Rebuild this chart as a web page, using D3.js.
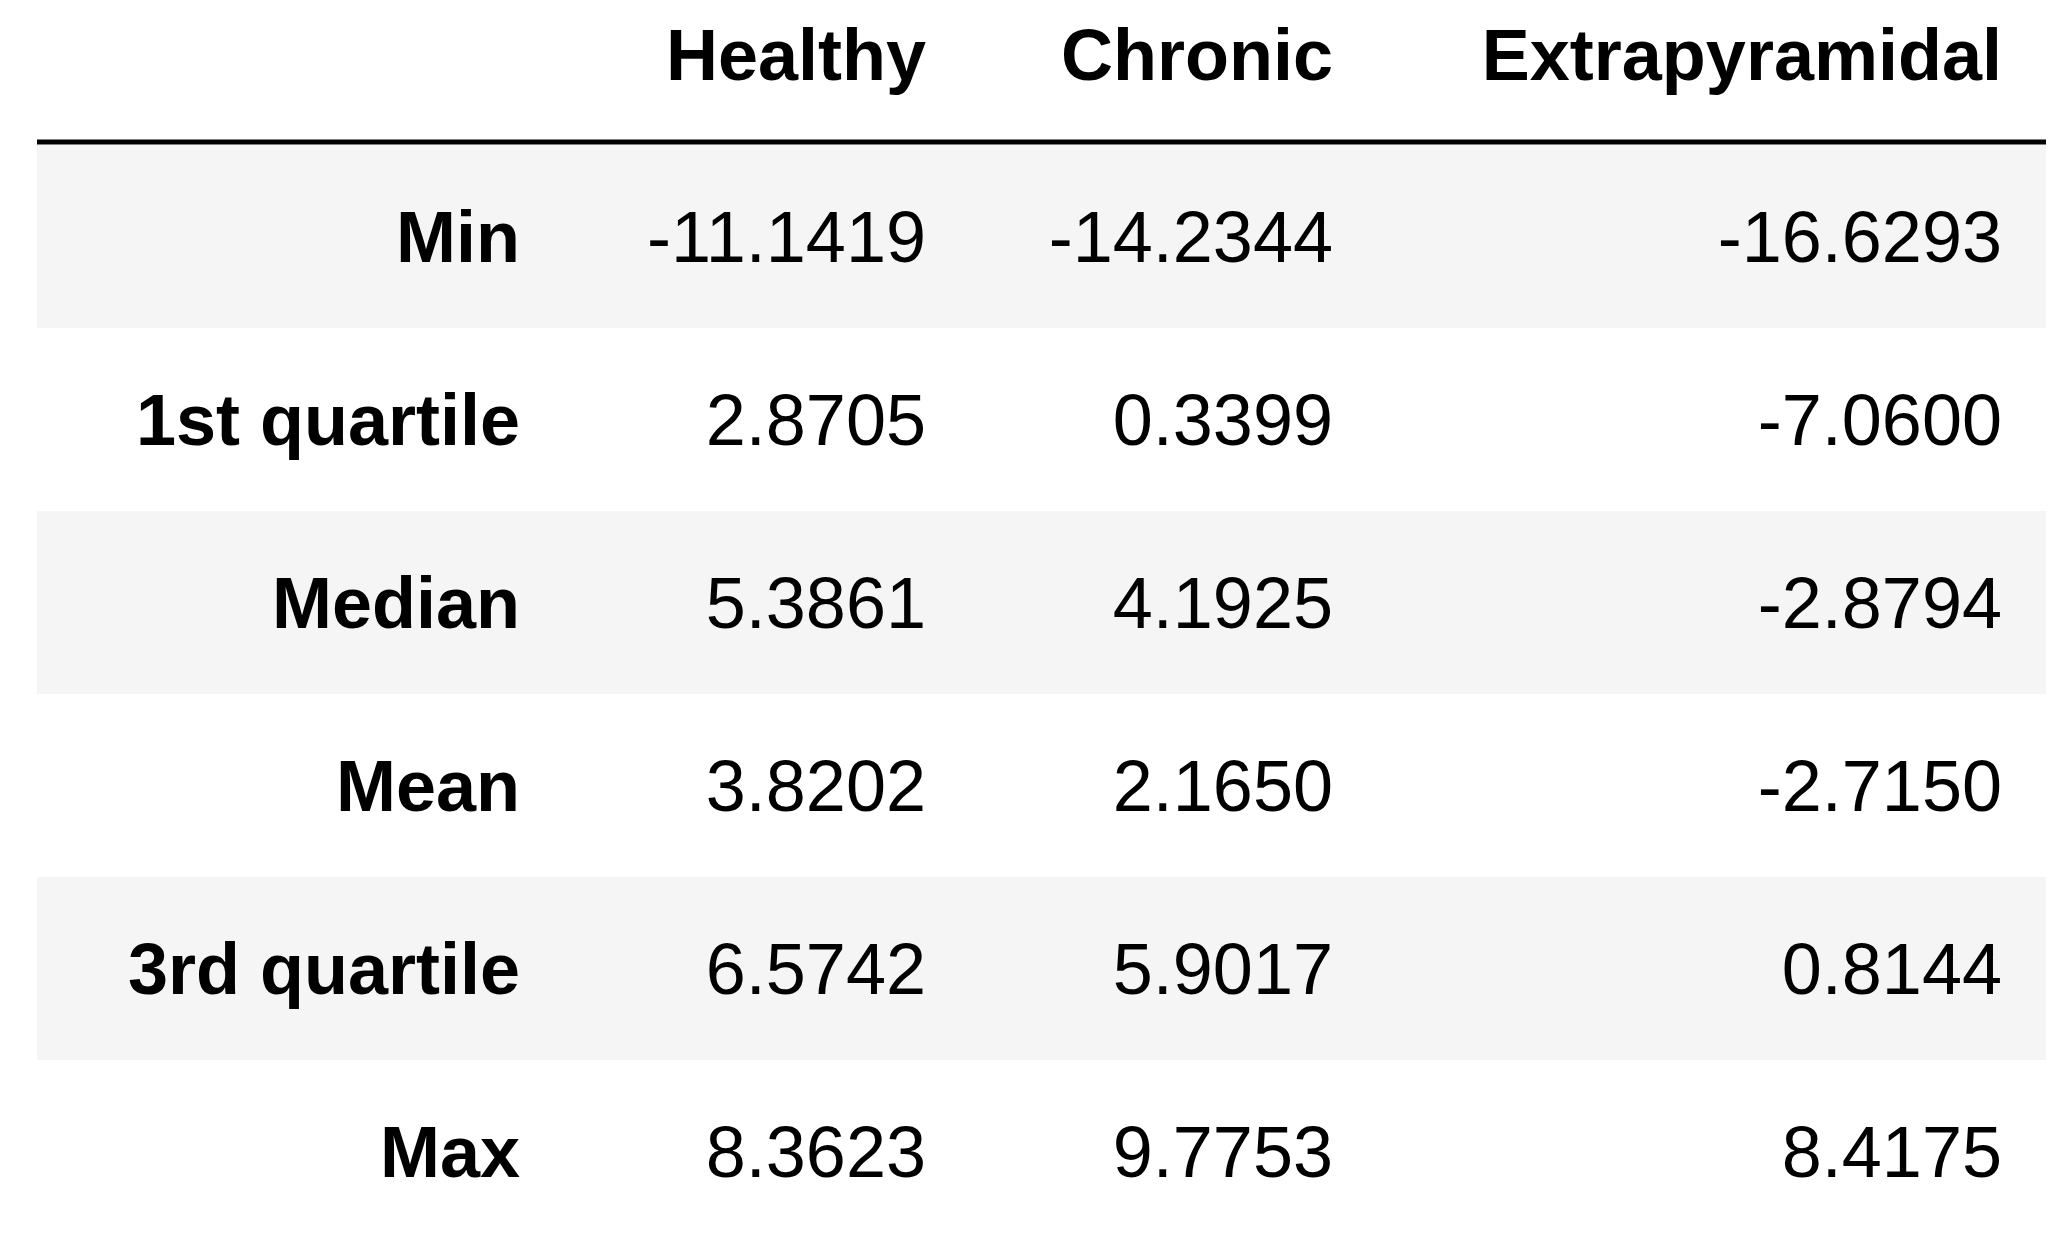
<!DOCTYPE html>
<html>
<head>
<meta charset="utf-8">
<script src="https://cdn.jsdelivr.net/npm/d3@7"></script>
<style>
  body { margin: 0; background: #fff; }
  text { font-family: "Liberation Sans", Arial, sans-serif; fill: #000; }
</style>
</head>
<body>
<svg id="table"></svg>
<script>
const columns = ["Healthy", "Chronic", "Extrapyramidal"];
const rowLabels = ["Min", "1st quartile", "Median", "Mean", "3rd quartile", "Max"];
const healthy = ["-11.1419", "2.8705", "5.3861", "3.8202", "6.5742", "8.3623"];
const chronic = ["-14.2344", "0.3399", "4.1925", "2.1650", "5.9017", "9.7753"];
const extrapyramidal = ["-16.6293", "-7.0600", "-2.8794", "-2.7150", "0.8144", "8.4175"];

const width = 2069, height = 1244;
const tableLeft = 37, tableRight = 2046, tableTop = 145;
const fontSize = 72;

const svg = d3.select("#table").attr("width", width).attr("height", height);

const y = d3.scaleBand().domain(rowLabels).range([tableTop, tableTop + 6 * 183]);
const colEdges = [520, 926, 1333, 2002]; // right edges: index, Healthy, Chronic, Extrapyramidal

const values = [healthy, chronic, extrapyramidal];

// striped rows
svg.selectAll(".stripe")
   .data(rowLabels.filter((d, i) => i % 2 === 0))
   .enter()
   .append("rect")
   .attr("x", tableLeft)
   .attr("width", tableRight - tableLeft)
   .attr("y", d => y(d))
   .attr("height", y.bandwidth())
   .attr("fill", "#f5f5f5");

// header
svg.selectAll(".head")
   .data(columns)
   .enter()
   .append("text")
   .attr("x", (d, i) => colEdges[i + 1])
   .attr("y", 80)
   .attr("text-anchor", "end")
   .attr("font-size", fontSize)
   .attr("font-weight", "bold")
   .text(d => d);

svg.append("line")
   .attr("x1", tableLeft).attr("x2", tableRight)
   .attr("y1", 142).attr("y2", 142)
   .attr("stroke", "#000")
   .attr("stroke-width", 5);

// row labels
svg.selectAll(".rowlabel")
   .data(rowLabels)
   .enter()
   .append("text")
   .attr("x", colEdges[0])
   .attr("y", d => y(d) + y.bandwidth() / 2 + fontSize * 0.36)
   .attr("text-anchor", "end")
   .attr("font-size", fontSize)
   .attr("font-weight", "bold")
   .text(d => d);

// cells
values.forEach((col, ci) => {
  svg.selectAll(".cell" + ci)
     .data(col)
     .enter()
     .append("text")
     .attr("x", colEdges[ci + 1])
     .attr("y", (d, i) => y(rowLabels[i]) + y.bandwidth() / 2 + fontSize * 0.36)
     .attr("text-anchor", "end")
     .attr("font-size", fontSize)
     .text(d => d);
});
</script>
</body>
</html>
